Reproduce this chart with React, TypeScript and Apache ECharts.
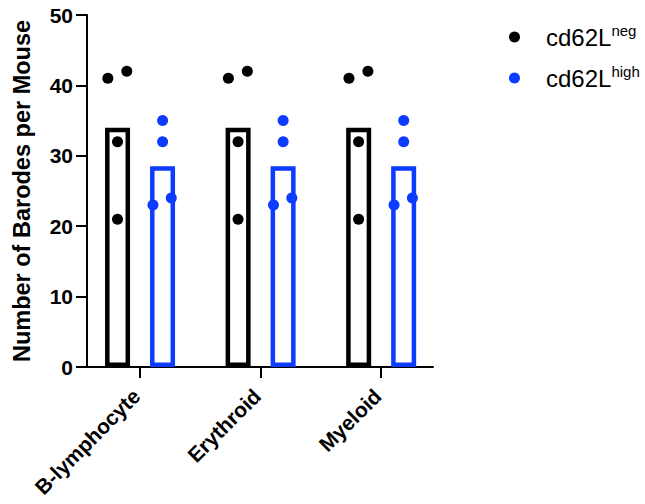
import React, { useEffect, useRef } from "react";
import * as echarts from "echarts";

const categories = ["B-lymphocyte", "Erythroid", "Myeloid"];
const seriesNames = ["cd62L^neg", "cd62L^high"];
const negMean = [34, 34, 34];
const highMean = [28.5, 28.5, 28.5];
const negPoints = [
  [41, 42, 32, 21],
  [41, 42, 32, 21],
  [41, 42, 32, 21],
];
const highPoints = [
  [35, 32, 23, 24],
  [35, 32, 23, 24],
  [35, 32, 23, 24],
];
const yTicks = [0, 10, 20, 30, 40, 50];

// layout constants (in category units)
const BAR_OFFSET = 0.187;
const NEG_JITTER = [-0.08, 0.077, 0, 0];
const HIGH_JITTER = [0, 0, -0.08, 0.072];

const BLUE = "#0D3BFF";
const FONT = "'Liberation Sans', Arial, Helvetica, sans-serif";

export default function App() {
  const ref = useRef<HTMLDivElement>(null);
  useEffect(() => {
    if (!ref.current) return;
    const chart = echarts.init(ref.current, null, { renderer: "svg" });

    const negScatter: number[][] = [];
    negPoints.forEach((pts, ci) =>
      pts.forEach((v, j) => negScatter.push([ci - BAR_OFFSET + NEG_JITTER[j], v]))
    );
    const highScatter: number[][] = [];
    highPoints.forEach((pts, ci) =>
      pts.forEach((v, j) => highScatter.push([ci + BAR_OFFSET + HIGH_JITTER[j], v]))
    );

    const legendName = (n: string) => {
      const [base, sup] = n.split("^");
      return `{a|${base}}{s|${sup}}`;
    };
    const colors = ["#000", BLUE];

    chart.setOption({
      animation: false,
      textStyle: { fontFamily: FONT },
      grid: { left: 87, right: 212, top: 15, bottom: 137, containLabel: false },
      legend: {
        orient: "vertical",
        left: 504,
        top: 18,
        itemWidth: 11,
        itemHeight: 11,
        itemGap: 15,
        data: seriesNames.map((n, i) => ({
          name: n,
          icon: "circle",
          itemStyle: { color: colors[i], borderWidth: 0, opacity: 1 },
        })),
        formatter: legendName,
        textStyle: {
          fontFamily: FONT,
          rich: {
            a: { fontSize: 24, color: "#000", padding: [0, 0, 0, 21], lineHeight: 28, fontFamily: FONT },
            s: { fontSize: 15, color: "#000", verticalAlign: "top", lineHeight: 15, fontFamily: FONT },
          },
        },
      },
      xAxis: {
        type: "value",
        min: -0.44,
        max: 2.43,
        splitLine: { show: false },
        axisLine: { show: true, onZero: false, lineStyle: { color: "#000", width: 2 } },
        axisTick: { show: true, customValues: [0, 1, 2], length: 11, lineStyle: { color: "#000", width: 2 } },
        axisLabel: {
          show: true,
          customValues: [0, 1, 2],
          formatter: (v: number) => categories[Math.round(v)],
          rotate: 45,
          margin: 22,
          padding: [0, 5, 0, 0],
          fontSize: 21,
          fontWeight: "bold",
          color: "#000",
          fontFamily: FONT,
        },
      },
      yAxis: {
        type: "value",
        min: 0,
        max: 50,
        interval: 10,
        name: "Number of Barodes per Mouse",
        nameLocation: "middle",
        nameRotate: 90,
        nameGap: 53,
        nameTextStyle: { fontSize: 23.5, fontWeight: "bold", color: "#000", fontFamily: FONT },
        splitLine: { show: false },
        axisLine: { show: true, onZero: false, lineStyle: { color: "#000", width: 2 } },
        axisTick: { show: true, length: 11, lineStyle: { color: "#000", width: 2 } },
        axisLabel: {
          margin: 14,
          fontSize: 21,
          fontWeight: "bold",
          color: "#000",
          fontFamily: FONT,
          formatter: (v: number) => (yTicks.includes(v) ? String(v) : ""),
        },
      },
      series: [
        {
          type: "bar",
          name: seriesNames[0],
          data: negMean.map((v, i) => [i, v]),
          barWidth: 25,
          barGap: "80%",
          itemStyle: { color: "rgba(0,0,0,0)", borderColor: "#000", borderWidth: 4.5 },
        },
        {
          type: "bar",
          name: seriesNames[1],
          data: highMean.map((v, i) => [i, v]),
          barWidth: 25,
          barGap: "80%",
          itemStyle: { color: "rgba(0,0,0,0)", borderColor: BLUE, borderWidth: 4.5 },
        },
        {
          type: "scatter",
          name: seriesNames[0],
          data: negScatter,
          symbol: "circle",
          symbolSize: 11,
          itemStyle: { color: "#000", opacity: 1 },
          z: 5,
        },
        {
          type: "scatter",
          name: seriesNames[1],
          data: highScatter,
          symbol: "circle",
          symbolSize: 11,
          itemStyle: { color: BLUE, opacity: 1 },
          z: 5,
        },
      ],
    });
    return () => chart.dispose();
  }, []);

  return (
    <div
      ref={ref}
      style={{ position: "fixed", left: 0, top: 0, width: 645, height: 504, background: "#fff" }}
    />
  );
}
